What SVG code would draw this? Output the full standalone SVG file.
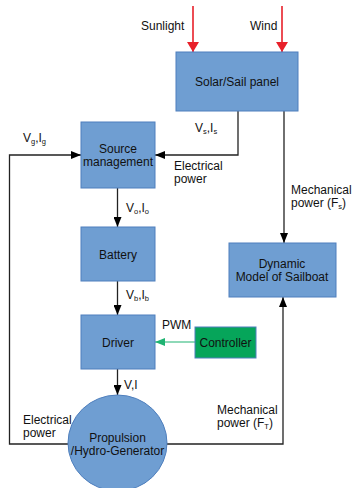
<svg xmlns="http://www.w3.org/2000/svg" width="353" height="488" viewBox="0 0 353 488">
<defs>
<marker id="ab" viewBox="0 0 10 8" refX="10" refY="4" markerWidth="10" markerHeight="8" markerUnits="userSpaceOnUse" orient="auto"><path d="M0,0 L10,4 L0,8 z" fill="#000"/></marker>
<marker id="ar" viewBox="0 0 10 14" refX="10" refY="7" markerWidth="10" markerHeight="14" markerUnits="userSpaceOnUse" orient="auto"><path d="M0,1 L10,7 L0,13 z" fill="#e8202a"/></marker>
<marker id="ag" viewBox="0 0 10 8" refX="10" refY="4" markerWidth="10" markerHeight="8" markerUnits="userSpaceOnUse" orient="auto"><path d="M0,0 L10,4 L0,8 z" fill="#1fb372"/></marker>
</defs>
<style>
.box{fill:#6f9ed2;stroke:#4f7fbd;stroke-width:1}
.t{font-family:"Liberation Sans",Arial,sans-serif;font-size:12px;fill:#111}
.c{text-anchor:middle}
.ln{stroke:#222;stroke-width:1.3;fill:none}
.s{font-size:7.5px}
</style>
<rect width="353" height="488" fill="#fff"/>
<g id="connectors">
<line x1="193" y1="6" x2="193" y2="52" stroke="#e8202a" stroke-width="1.6" marker-end="url(#ar)"/>
<line x1="282" y1="6" x2="282" y2="52" stroke="#e8202a" stroke-width="1.6" marker-end="url(#ar)"/>
<polyline class="ln" points="238,111 238,155 155,155" marker-end="url(#ab)"/>
<line class="ln" x1="284" y1="111" x2="284" y2="243" marker-end="url(#ab)"/>
<polyline class="ln" points="68,444 9.5,444 9.5,155 81,155" marker-end="url(#ab)"/>
<polyline class="ln" points="167,444 283,444 283,297" marker-end="url(#ab)"/>
<line class="ln" x1="117.5" y1="188" x2="117.5" y2="227" marker-end="url(#ab)"/>
<line class="ln" x1="117.5" y1="281" x2="117.5" y2="315" marker-end="url(#ab)"/>
<line class="ln" x1="117.5" y1="369" x2="117.5" y2="395" marker-end="url(#ab)"/>
<line x1="195" y1="342" x2="155" y2="342" stroke="#1fb372" stroke-width="1.2" marker-end="url(#ag)"/>
</g>
<g id="solar"><rect class="box" x="176" y="52" width="122" height="59"/><text class="t c" x="237" y="86">Solar/Sail panel</text></g>
<g id="source"><rect class="box" x="81" y="122" width="74" height="66"/><text class="t c" x="118" y="153">Source</text><text class="t c" x="118" y="166">management</text></g>
<g id="battery"><rect class="box" x="81" y="227" width="74" height="54"/><text class="t c" x="118" y="259">Battery</text></g>
<g id="driver"><rect class="box" x="81" y="315" width="74" height="54"/><text class="t c" x="118" y="347">Driver</text></g>
<g id="controller"><rect x="195" y="327" width="61" height="31" fill="#06a55a" stroke="#4f7fbd" stroke-width="1"/><text class="t c" x="225.5" y="347">Controller</text></g>
<g id="dynamic"><rect class="box" x="229" y="243" width="107" height="54"/><text class="t c" x="282" y="268">Dynamic</text><text class="t c" x="282" y="281">Model of Sailboat</text></g>
<g id="propulsion"><ellipse class="box" cx="117.5" cy="443" rx="49.5" ry="48"/><text class="t c" x="117.5" y="442">Propulsion</text><text class="t c" x="117.5" y="455">/Hydro-Generator</text></g>
<g id="labels">
<text class="t" x="141" y="30">Sunlight</text>
<text class="t" x="250" y="30">Wind</text>
<text class="t" x="195" y="132">V<tspan class="s" dy="2">s</tspan><tspan dy="-2">,I</tspan><tspan class="s" dy="2">s</tspan></text>
<text class="t" x="23" y="142">V<tspan class="s" dy="2">g</tspan><tspan dy="-2">,I</tspan><tspan class="s" dy="2">g</tspan></text>
<text class="t" x="174" y="170">Electrical</text>
<text class="t" x="174" y="183">power</text>
<text class="t" x="291" y="194">Mechanical</text>
<text class="t" x="291" y="207">power (F<tspan class="s" dy="2">s</tspan><tspan dy="-2">)</tspan></text>
<text class="t" x="126" y="212">V<tspan class="s" dy="2">o</tspan><tspan dy="-2">,I</tspan><tspan class="s" dy="2">o</tspan></text>
<text class="t" x="126" y="299">V<tspan class="s" dy="2">b</tspan><tspan dy="-2">,I</tspan><tspan class="s" dy="2">b</tspan></text>
<text class="t" x="162" y="329">PWM</text>
<text class="t" x="124" y="389">V,I</text>
<text class="t" x="23" y="424">Electrical</text>
<text class="t" x="23" y="437">power</text>
<text class="t" x="217" y="414">Mechanical</text>
<text class="t" x="217" y="427">power (F<tspan class="s" dy="2">T</tspan><tspan dy="-2">)</tspan></text>
</g>
</svg>
